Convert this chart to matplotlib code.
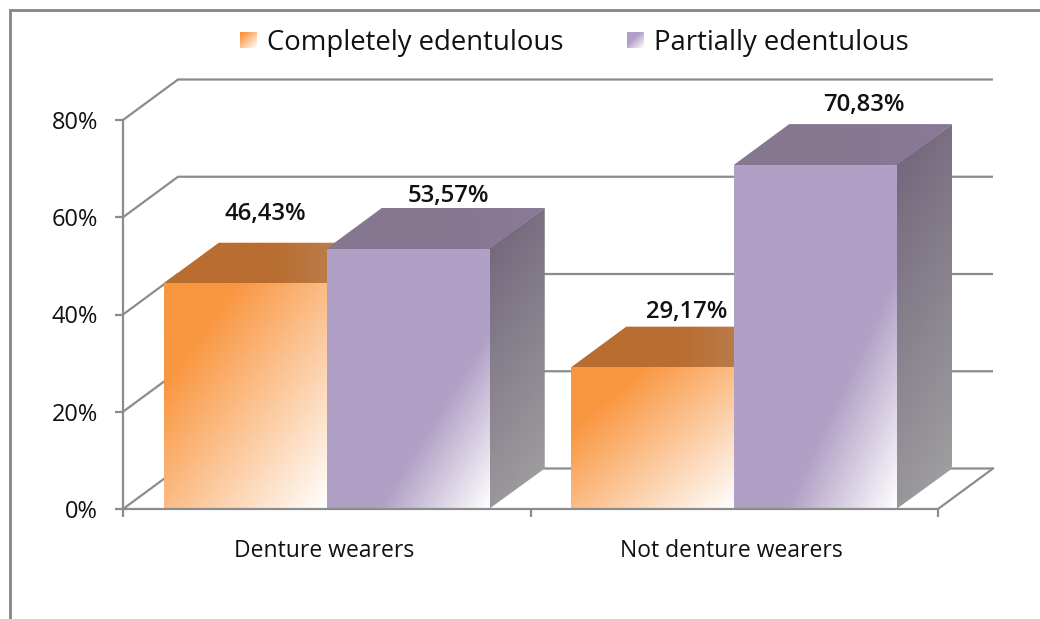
import matplotlib
matplotlib.use('Agg')
import matplotlib.pyplot as plt
import numpy as np
from matplotlib.colors import to_rgb
from matplotlib.patches import Polygon

# Data
categories = ['Denture wearers', 'Not denture wearers']
series_names = ['Completely edentulous', 'Partially edentulous']
completely = [46.43, 29.17]
partially = [53.57, 70.83]
y_ticks = [0, 20, 40, 60, 80]
y_labels = ['0%', '20%', '40%', '60%', '80%']
value_labels = [['46,43%', '29,17%'], ['53,57%', '70,83%']]

# Pixel layout of the picture
W, H = 1040, 619
LEFT, RIGHT, BOTTOM, TOP = 123, 938, 509, 120
GRID = '#8c8c8c'
TEXT = '#111111'
plt.rcParams['font.family'] = ['Open Sans', 'DejaVu Sans']

fig = plt.figure(figsize=(W / 100, H / 100), dpi=100, facecolor='white')
ax = fig.add_axes([LEFT / W, 1 - BOTTOM / H, (RIGHT - LEFT) / W, (BOTTOM - TOP) / H])
ax.patch.set_alpha(0)

# depth of the fake 3d box, in data units
depth_x = 55 / ((RIGHT - LEFT) / 2)
depth_y = 40.5 / ((BOTTOM - TOP) / 80)


def ramp(u0, color, steps=200):
    # unit square gradient: solid colour until u+v reaches u0, white in the corner
    u, v = np.meshgrid(np.linspace(0, 1, steps), np.linspace(0, 1, steps))
    t = np.clip((u + v - u0) / (2 - u0), 0, 1)[..., None]
    return np.array(to_rgb(color)) * (1 - t) + t


def shade(c1, c2, steps=200):
    u, v = np.meshgrid(np.linspace(0, 1, steps), np.linspace(0, 1, steps))
    t = ((0.25 * u + v) / 1.25)[..., None]
    return np.array(to_rgb(c1)) * (1 - t) + np.array(to_rgb(c2)) * t


def clipped(rgb, extent, patch, z):
    # image clipped to a patch only, it may leave the axes box
    img = ax.imshow(rgb, extent=extent, origin='upper', aspect='auto', zorder=z, interpolation='bilinear')
    img.set_clip_box(fig.bbox)
    img.set_clip_path(patch)


# walls
for y in y_ticks:
    ax.plot([0, depth_x, 2 + depth_x], [y, y + depth_y, y + depth_y], color=GRID, lw=1.6,
            clip_on=False, zorder=1, solid_capstyle='butt', solid_joinstyle='miter')
ax.plot([2, 2 + depth_x], [0, depth_y], color=GRID, lw=1.6, clip_on=False, zorder=1)

# bars
width = 0.4
x = np.arange(len(categories)) + 0.5
styles = [
    {'front': '#f99640', 'u0': 0.44, 'top': ('#b96d30', '#bc8a60'), 'side': ('#b96d30', '#a0a0a0')},
    {'front': '#b1a0c6', 'u0': 1.32, 'top': ('#857790', '#8a7a98'), 'side': ('#6f6379', '#a3a3a3')},
]
label_offsets = [[(20, 69), (34, 55)], [(40, 53), (48, 60)]]
order = 2
for g in range(len(categories)):
    for s, values in enumerate([completely, partially]):
        left = x[g] - width + s * width
        h = values[g]
        st = styles[s]
        bar = ax.bar(left, h, width, align='edge', color='none', zorder=order + 1)[0]
        clipped(ramp(st['u0'], st['front']), [left, left + width, 0, h], bar, order + 1)
        # right side
        side = Polygon([(left + width - 0.002, 0), (left + width + depth_x, depth_y),
                        (left + width + depth_x, h + depth_y), (left + width - 0.002, h)],
                       closed=True, fc='none', ec='none', clip_on=False, zorder=order)
        ax.add_patch(side)
        clipped(shade(*st['side']), [left + width - 0.002, left + width + depth_x, 0, h + depth_y], side, order)
        # top, runs a little under the front so no seam shows
        low = h - 0.4
        top = Polygon([(left, low), (left + width, low), (left + width, h),
                       (left + width + depth_x, h + depth_y), (left + depth_x, h + depth_y), (left, h)],
                      closed=True, fc='none', ec='none', clip_on=False, zorder=order)
        ax.add_patch(top)
        u = np.linspace(0, 1, 100)[None, :]
        t = np.clip((u - 0.5) / 0.5, 0, 1)[..., None]
        c1, c2 = np.array(to_rgb(st['top'][0])), np.array(to_rgb(st['top'][1]))
        clipped(c1 * (1 - t) + c2 * t, [left, left + width + depth_x, low, h + depth_y], top, order)
        dx, dy = label_offsets[s][g]
        ax.annotate(value_labels[s][g], (left + width / 2, h), xytext=(dx, dy),
                    textcoords='offset pixels', ha='center', va='center', fontsize=17.2,
                    fontweight='semibold', color=TEXT, zorder=50, annotation_clip=False)
        order += 2

ax.set_xlim(0, 2)
ax.set_ylim(0, 80)
ax.set_yticks(y_ticks, y_labels)
ax.set_xticks([0, 1, 2], ['', '', ''])
for cx, name in zip(x, categories):
    ax.annotate(name, (cx, 0), xytext=(-3, -42), textcoords='offset pixels', ha='center', va='center',
                fontsize=16.5, color=TEXT)
ax.tick_params(axis='y', length=6, width=1.6, color=GRID, labelsize=17, labelcolor=TEXT, pad=12)
ax.tick_params(axis='x', length=6, width=1.6, color=GRID)
for name in ['top', 'right']:
    ax.spines[name].set_visible(False)
for name in ['left', 'bottom']:
    ax.spines[name].set_color(GRID)
    ax.spines[name].set_linewidth(1.6)
    ax.spines[name].set_zorder(40)

# legend
swatch_x = [240, 627]
label_x = [267, 654]
for sx, st, name, lx in zip(swatch_x, styles, series_names, label_x):
    sw = fig.add_axes([sx / W, 1 - 48 / H, 17 / W, 16 / H])
    sw.imshow(ramp(st['u0'] * 0.6, st['front']), aspect='auto', interpolation='bilinear')
    sw.axis('off')
    fig.text(lx / W, 1 - 43 / H, name, ha='left', va='center', fontsize=19.8, color=TEXT)

# outer frame, cut by the picture at the bottom and right
fig.add_artist(plt.Line2D([9.5 / W, 9.5 / W, 1], [0, 1 - 9.5 / H, 1 - 9.5 / H],
                          color='#858585', lw=2, solid_joinstyle='miter'))

fig.savefig('out.png', dpi=100)
